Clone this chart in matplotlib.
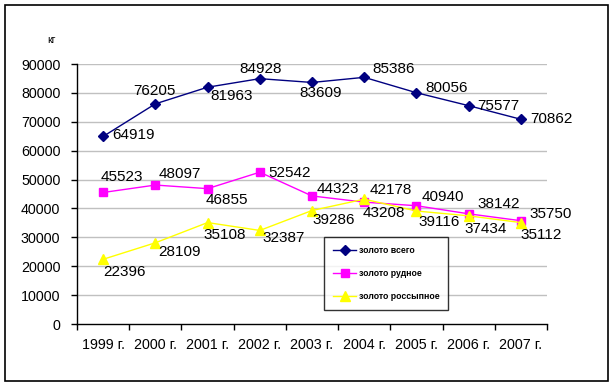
import matplotlib
matplotlib.use("Agg")
import matplotlib.pyplot as plt
from matplotlib.patches import Rectangle
import numpy as np

plt.rcParams['font.family'] = ['Liberation Sans', 'DejaVu Sans']

years = ["1999 г.", "2000 г.", "2001 г.", "2002 г.", "2003 г.", "2004 г.", "2005 г.", "2006 г.", "2007 г."]
gold_total = [64919, 76205, 81963, 84928, 83609, 85386, 80056, 75577, 70862]
gold_ore = [45523, 48097, 46855, 52542, 44323, 42178, 40940, 38142, 35750]
gold_placer = [22396, 28109, 35108, 32387, 39286, 43208, 39116, 37434, 35112]
series_names = ["золото всего", "золото рудное", "золото россыпное"]
y_ticks = [0, 10000, 20000, 30000, 40000, 50000, 60000, 70000, 80000, 90000]

# label offsets in pixels (dx, dy downwards)
off_total = [(30, -1), (-1, -13), (24, 9), (1, -10), (9, 11), (29, -8), (30, -5), (30, 0), (31, 0)]
off_ore = [(19, -15), (24, -11), (19, 11), (30, 1), (26, -7), (27, -12), (26, -9), (30, -10), (30, -7)]
off_placer = [(21, 13), (24, 9), (17, 12), (24, 8), (22, 9), (20, 14), (23, 11), (17, 13), (20, 12)]

W, H = 615, 390
fig = plt.figure(figsize=(W / 100, H / 100), dpi=100)
fig.patch.set_facecolor("white")
ax = fig.add_axes([77 / W, 1 - 324 / H, (547 - 77) / W, (324 - 64) / H])

x = np.arange(len(years)) + 0.5
styles = [
    dict(color="#000080", marker="D", markersize=4.8),
    dict(color="#FF00FF", marker="s", markersize=5.8),
    dict(color="#FFFF00", marker="^", markersize=7.0),
]
datas = [gold_total, gold_ore, gold_placer]
offs = [off_total, off_ore, off_placer]
for name, data, st, off in zip(series_names, datas, styles, offs):
    ax.plot(x, data, color=st["color"], marker=st["marker"], markersize=st["markersize"],
            markerfacecolor=st["color"], markeredgecolor=st["color"], linewidth=1.0,
            label=name, zorder=3)
    for xi, v, (dx, dy) in zip(x, data, off):
        ax.annotate(str(v), (xi, v), xytext=(dx, -dy), textcoords="offset pixels",
                    ha="center", va="center", fontsize=11, color="black", zorder=4)

ax.set_xlim(0, len(years))
ax.set_ylim(0, 90000)
ax.set_yticks(y_ticks)
ax.set_yticklabels([str(t) for t in y_ticks], fontsize=10.3)
ax.set_xticks(np.arange(len(years) + 1), minor=False)
ax.set_xticklabels([])
ax.set_xticks(x, minor=True)
ax.set_xticklabels(years, minor=True, fontsize=10.3)
ax.tick_params(axis="x", which="major", length=4, width=1, direction="out")
ax.tick_params(axis="x", which="minor", length=0, pad=10)
ax.tick_params(axis="y", which="major", length=4, width=1, direction="out", pad=8)

ax.grid(False)
for t in y_ticks[1:]:
    ax.axhline(t, color="#C0C0C0", linewidth=1.0, zorder=1)
for s in ["top", "right"]:
    ax.spines[s].set_visible(False)
ax.spines["left"].set_linewidth(1.0)
ax.spines["bottom"].set_linewidth(1.0)

fig.text(52 / W, 1 - 40 / H, "кг", fontsize=7.5, ha="center", va="center")

leg = fig.legend(loc="upper left", bbox_to_anchor=(324 / W, 1 - 237 / H), borderaxespad=0,
                 prop={"size": 6.3, "weight": "bold"}, frameon=True, fancybox=False,
                 handlelength=2.7, handletextpad=0.3, labelspacing=1.6, borderpad=1.0,
                 markerscale=1.1)
leg.get_frame().set_edgecolor("black")
leg.get_frame().set_linewidth(1.0)

fig.patches.append(Rectangle((5 / W, 1 - 381 / H), (608 - 5) / W, (381 - 5) / H,
                             transform=fig.transFigure, fill=False, edgecolor="black",
                             linewidth=1.2))

fig.savefig("out.png", dpi=100)
